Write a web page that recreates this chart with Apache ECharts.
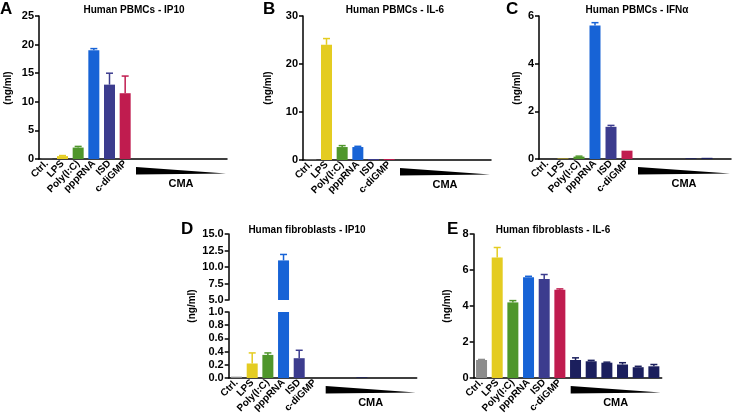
<!DOCTYPE html>
<html><head><meta charset="utf-8">
<script src="https://cdn.jsdelivr.net/npm/echarts@6/dist/echarts.min.js"></script>
<style>html,body{margin:0;padding:0;background:#fff}#c{width:735px;height:416px}</style>
</head><body><div id="c"></div>
<script>
const categories = ['Ctrl.','LPS','Poly(I:C)','pppRNA','ISD','c-diGMP','CMA 1','CMA 2','CMA 3','CMA 4','CMA 5','CMA 6'];
const shownLabels = 6;
const barColors = ['#8c8c8c','#e4cc21','#4f962b','#1763d6','#3c3c8e','#c01c4f','#1b1f5d','#1b1f5d','#1b1f5d','#1b1f5d','#1b1f5d','#1b1f5d'];

const pbmcIP10 = [0.05,0.5,2.0,19.0,13.0,11.5,0,0,0,0,0,0];
const pbmcIP10Err = [0,0.1,0.2,0.3,2.0,3.0,0,0,0,0,0,0];
const pbmcIL6 = [0.1,24.0,2.7,2.7,0.2,0.2,0,0,0,0,0,0];
const pbmcIL6Err = [0,1.3,0.3,0.15,0,0,0,0,0,0,0,0];
const pbmcIFNa = [0,0.02,0.1,5.6,1.35,0.35,0,0,0,0.03,0.05,0];
const pbmcIFNaErr = [0,0,0.02,0.12,0.06,0,0,0,0,0,0,0];
const fibIP10 = [0.02,0.22,0.35,11.0,0.3,0,0,0,0.01,0,0,0];
const fibIP10Err = [0,0.16,0.03,0.9,0.12,0,0,0,0,0,0,0];
const fibIL6 = [1.0,6.7,4.2,5.6,5.5,4.9,1.0,0.93,0.85,0.75,0.6,0.65];
const fibIL6Err = [0.03,0.55,0.1,0.05,0.25,0.05,0.12,0.05,0.03,0.1,0.05,0.1];

const ticksA = [0,5,10,15,20,25];
const ticksB = [0,10,20,30];
const ticksC = [0,2,4,6];
const ticksDLow = [0,0.2,0.4,0.6,0.8,1.0];
const ticksDHigh = [5,7.5,10,12.5,15];
const ticksE = [0,2,4,6,8];

const titles = ['Human PBMCs - IP10','Human PBMCs - IL-6','Human PBMCs - IFN\u03b1','Human fibroblasts - IP10','Human fibroblasts - IL-6'];
const letters = ['A','B','C','D','E'];
const yName = '(ng/ml)';
const cmaName = 'CMA';

const FONT = 'Liberation Sans, Arial, Helvetica, sans-serif';
const chart = echarts.init(document.getElementById('c'));

const grids = [
  {left:39, top:16, width:188, height:143},
  {left:303, top:16, width:188, height:144},
  {left:539, top:16, width:192, height:143},
  {left:228.7, top:312, width:188, height:66},
  {left:228.7, top:234, width:188, height:66},
  {left:473.7, top:234, width:188, height:144}
];

function xAxis(i, show){
  return {
    type:'category', gridIndex:i, data:categories, show:show!==false,
    axisLine:{lineStyle:{color:'#000', width:1.5}},
    axisTick:{show:false},
    axisLabel:{interval:0, rotate:45, margin:3, color:'#000', fontWeight:'bold', fontSize:10, fontFamily:FONT,
      formatter:(v, idx)=> idx < shownLabels ? v : ''}
  };
}
function yAxis(i, ticks, dec){
  return {
    type:'value', gridIndex:i, min:ticks[0], max:ticks[ticks.length-1], interval:ticks[1]-ticks[0],
    splitLine:{show:false},
    axisLine:{show:true, lineStyle:{color:'#000', width:1.5}},
    axisTick:{show:true, length:4, lineStyle:{color:'#000', width:1.5}},
    axisLabel:{margin:5, color:'#000', fontWeight:'bold', fontSize:11, fontFamily:FONT,
      formatter: v => dec ? v.toFixed(dec) : String(v)}
  };
}

function barSeries(i, values, filter){
  return {
    type:'bar', xAxisIndex:i, yAxisIndex:i, barWidth:11, clip:true,
    data: values.map((v,k)=> (filter && !filter(v)) ? '-' : {value:v, itemStyle:{color:barColors[k]}}),
    z:2
  };
}
function errSeries(i, values, errs, filter){
  const data = [];
  values.forEach((v,k)=>{ if (errs[k] > 0 && (!filter || filter(v))) data.push([k, v, errs[k]]); });
  return {
    type:'custom', xAxisIndex:i, yAxisIndex:i, z:3, silent:true,
    data,
    renderItem:(params, api)=>{
      const k = api.value(0), v = api.value(1), e = api.value(2);
      const p0 = api.coord([k, v]), p1 = api.coord([k, v+e]);
      const col = barColors[k];
      return {type:'group', children:[
        {type:'line', shape:{x1:p0[0], y1:p0[1], x2:p1[0], y2:p1[1]}, style:{stroke:col, lineWidth:1.5}},
        {type:'line', shape:{x1:p1[0]-3.5, y1:p1[1], x2:p1[0]+3.5, y2:p1[1]}, style:{stroke:col, lineWidth:1.5}}
      ]};
    }
  };
}
function wedgeSeries(i){
  return {
    type:'custom', xAxisIndex:i, yAxisIndex:i, z:3, silent:true, clip:false,
    data:[[6, 0]],
    renderItem:(params, api)=>{
      const a = api.coord([6, 0]), b = api.coord([11, 0]);
      const w = api.size([1, 0])[0];
      const x0 = a[0] - w/2 + 3, x1 = b[0] + w/2 - 1, y = a[1];
      return {type:'group', children:[
        {type:'polygon', shape:{points:[[x0, y+8],[x1, y+14.5],[x0, y+15.5]]}, style:{fill:'#000'}},
        {type:'text', style:{x:(x0+x1)/2, y:y+25, text:cmaName, align:'center', verticalAlign:'middle',
          font:'bold 11px ' + FONT, fill:'#000'}}
      ]};
    }
  };
}

const isLow = v => v <= 1;
const isHigh = v => v >= 5;

const graphic = [];
const letterPos = [[0,1],[263,1],[506,1],[181,221],[447,221]];
letters.forEach((t,k)=> graphic.push({type:'text', x:letterPos[k][0], y:letterPos[k][1],
  style:{text:t, font:'bold 17px ' + FONT, fill:'#000'}}));
const titlePos = [[134,10],[395,10],[637,10],[307,230],[553,230]];
titles.forEach((t,k)=> graphic.push({type:'text', x:titlePos[k][0], y:titlePos[k][1],
  style:{text:t, align:'center', verticalAlign:'middle', font:'bold 10px ' + FONT, fill:'#000'}}));
const yNamePos = [[8,88],[268,88],[517,88],[192,306],[447,306]];
yNamePos.forEach(p=> graphic.push({type:'text', x:p[0], y:p[1], rotation:Math.PI/2,
  style:{text:yName, align:'center', verticalAlign:'middle', font:'bold 10px ' + FONT, fill:'#000'}}));

chart.setOption({
  animation:false,
  backgroundColor:'#fff',
  grid: grids,
  xAxis:[xAxis(0), xAxis(1), xAxis(2), xAxis(3), xAxis(4,false), xAxis(5)],
  yAxis:[yAxis(0,ticksA), yAxis(1,ticksB), yAxis(2,ticksC), yAxis(3,ticksDLow,1), yAxis(4,ticksDHigh,1), yAxis(5,ticksE)],
  series:[
    barSeries(0,pbmcIP10), errSeries(0,pbmcIP10,pbmcIP10Err), wedgeSeries(0),
    barSeries(1,pbmcIL6), errSeries(1,pbmcIL6,pbmcIL6Err), wedgeSeries(1),
    barSeries(2,pbmcIFNa), errSeries(2,pbmcIFNa,pbmcIFNaErr), wedgeSeries(2),
    barSeries(3,fibIP10), errSeries(3,fibIP10,fibIP10Err,isLow), wedgeSeries(3),
    barSeries(4,fibIP10,isHigh), errSeries(4,fibIP10,fibIP10Err,isHigh),
    barSeries(5,fibIL6), errSeries(5,fibIL6,fibIL6Err), wedgeSeries(5)
  ],
  graphic: graphic
});
</script>
</body></html>
